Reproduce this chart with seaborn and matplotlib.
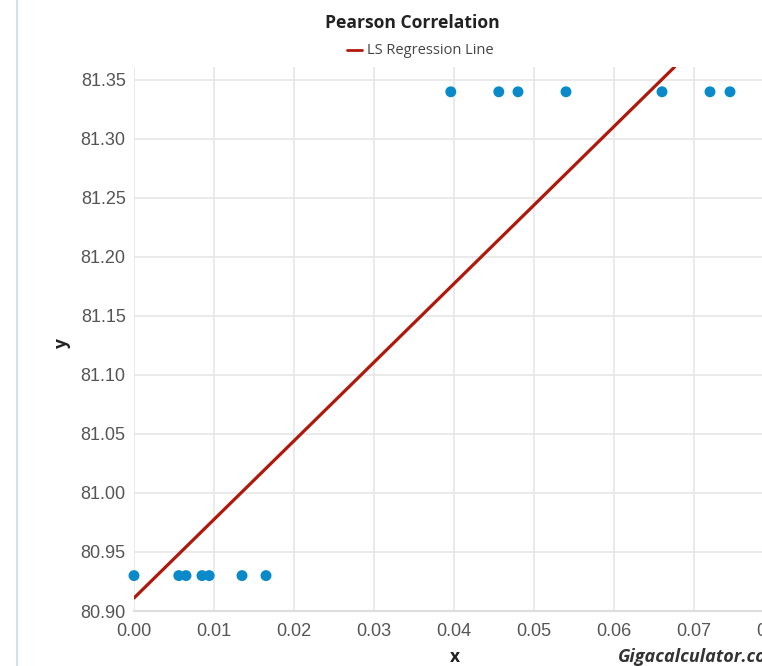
#!/usr/bin/env python3
"""Pearson correlation scatter with LS regression line (Gigacalculator style)."""

import matplotlib
matplotlib.use("Agg")
import matplotlib.pyplot as plt
from matplotlib.lines import Line2D
import pandas as pd
import seaborn as sns

# --- data ------------------------------------------------------------------
x_values = [0.0000, 0.0056, 0.0065, 0.0085, 0.0094, 0.0135, 0.0165,
            0.0396, 0.0456, 0.0480, 0.0540, 0.0660, 0.0720, 0.0745]
y_values = [80.93, 80.93, 80.93, 80.93, 80.93, 80.93, 80.93,
            81.34, 81.34, 81.34, 81.34, 81.34, 81.34, 81.34]

# regression line as drawn in the picture
line_intercept = 80.911
line_slope = 6.66

x_ticks = [0.00, 0.01, 0.02, 0.03, 0.04, 0.05, 0.06, 0.07, 0.08]
y_ticks = [80.90, 80.95, 81.00, 81.05, 81.10, 81.15, 81.20, 81.25, 81.30, 81.35]

DOT = "#0a8ac8"
LINE = "#b0180c"
GRID = "#e6e6e6"
TICK = "#555555"


def main() -> None:
    sns.set_style("white")
    plt.rcParams["font.family"] = ["Liberation Sans", "DejaVu Sans"]

    df = pd.DataFrame({"x": x_values, "y": y_values})

    W, H = 762, 666
    fig = plt.figure(figsize=(W / 100, H / 100), dpi=100)
    left, right, top, bottom = 134, 774, 67, 611
    ax = fig.add_axes([left / W, (H - bottom) / H, (right - left) / W, (bottom - top) / H])

    ax.axline((0, line_intercept), slope=line_slope, color=LINE, linewidth=2.3, zorder=2)
    sns.scatterplot(data=df, x="x", y="y", ax=ax, color=DOT, s=62,
                    edgecolor="none", zorder=3, legend=False, clip_on=False)

    ax.set_xlim(0.0, 0.08)
    ax.set_ylim(80.90, 81.361)
    ax.set_xticks(x_ticks)
    ax.set_yticks(y_ticks)
    ax.set_xticklabels([f"{v:.2f}" for v in x_ticks])
    ax.set_yticklabels([f"{v:.2f}" for v in y_ticks])
    ax.tick_params(axis="both", length=0, labelsize=13, labelcolor=TICK, pad=6)
    ax.tick_params(axis="x", pad=9)

    ax.grid(True, color=GRID, linewidth=1.2)
    ax.set_axisbelow(True)
    for name, spine in ax.spines.items():
        if name == "bottom":
            spine.set_color("#dddddd")
            spine.set_linewidth(1.5)
        else:
            spine.set_visible(False)
    ax.set_xlabel("")
    ax.set_ylabel("")

    # page border on the left
    fig.add_artist(Line2D([17 / W, 17 / W], [0, 1], color="#c8dcec", linewidth=1.2))

    fig.text(412 / W, 1 - 23 / H, "Pearson Correlation", ha="center", va="center",
             fontsize=12.6, fontweight="bold", color="#222222",
             family=["Open Sans", "DejaVu Sans"])
    fig.add_artist(Line2D([347 / W, 362 / W], [1 - 50 / H, 1 - 50 / H],
                          color=LINE, linewidth=2))
    fig.text(367 / W, 1 - 50 / H, "LS Regression Line", ha="left", va="center",
             fontsize=10.5, color="#444444", family=["Open Sans", "DejaVu Sans"])

    fig.text(62 / W, 1 - 343 / H, "y", ha="center", va="center", rotation=90,
             fontsize=12.5, fontweight="bold", color="#222222",
             family=["Open Sans", "DejaVu Sans"])
    fig.text(455 / W, 1 - 657 / H, "x", ha="center", va="center",
             fontsize=12.5, fontweight="bold", color="#222222",
             family=["Open Sans", "DejaVu Sans"])
    fig.text(618 / W, 1 - 657 / H, "Gigacalculator.com", ha="left", va="center",
             fontsize=13, fontweight="bold", style="italic", color="#333333",
             family=["Open Sans", "DejaVu Sans"])

    fig.savefig("out.png", dpi=100, facecolor="white")


if __name__ == "__main__":
    main()
